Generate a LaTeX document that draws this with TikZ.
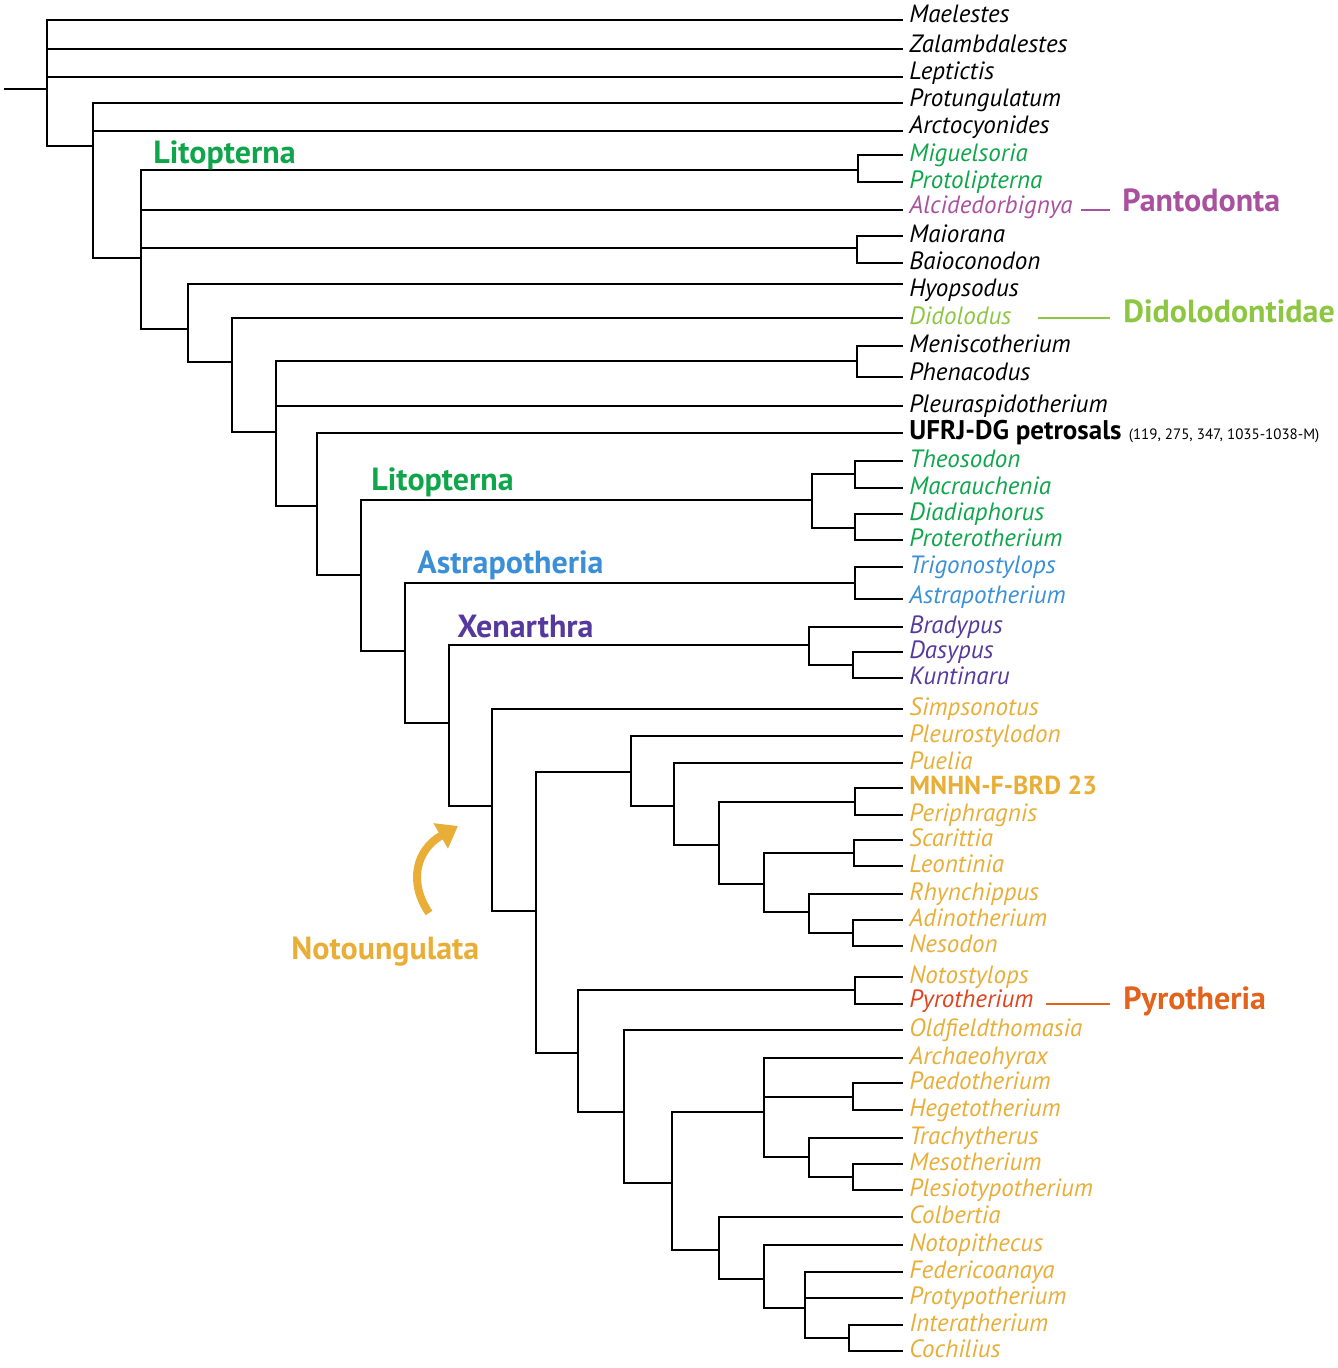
\documentclass[tikz,border=0pt]{standalone}
\usepackage{fontspec}
\setmainfont{PT Sans}
\usepackage{xcolor}
\usetikzlibrary{arrows.meta,calc}
\definecolor{litogreen}{HTML}{0FA64B}
\definecolor{pantopurple}{HTML}{A9509F}
\definecolor{didogreen}{HTML}{8DC641}
\definecolor{astrablue}{HTML}{3A8FD6}
\definecolor{xenaviolet}{HTML}{56399C}
\definecolor{notoyellow}{HTML}{E9AE38}
\definecolor{pyroorange}{HTML}{E2631C}
\definecolor{pyrored}{HTML}{E0441E}
\tikzset{
  taxon/.style={
    anchor=west, inner xsep=3pt, inner ysep=0pt,
    text height=9pt, text depth=2.5pt,
    font=\fontsize{12.5}{14}\selectfont\itshape, text=#1
  },
  taxon/.default=black,
  cladelabel/.style={
    anchor=base west, inner sep=0pt,
    font=\fontsize{16}{19}\selectfont\bfseries, text=#1
  },
  branch/.style={line width=1.1pt, draw=black},
  linkline/.style={line width=1.1pt, draw=#1},
  notoarrow/.style={
    -{Triangle[length=10pt, width=14pt]}, line width=4pt, draw=notoyellow
  },
}

\begin{document}
\begin{tikzpicture}[x=0.5pt, y=-0.5pt]
  \useasboundingbox (0,0) rectangle (1337,1368);
  % taxa
  \node[taxon, text height=5.5pt] (maelestes) at (903,20) {Maelestes};
  \node[taxon, text height=6pt] (zalamb) at (903,49) {Zalambdalestes};
  \node[taxon, text height=5.5pt] (leptictis) at (903,77) {Leptictis};
  \node[taxon, text height=6pt] (protung) at (903,103) {Protungulatum};
  \node[taxon, text height=5.5pt] (arcto) at (903,131) {Arctocyonides};
  \node[taxon=litogreen] (miguel) at (903,155) {Miguelsoria};
  \node[taxon=litogreen] (protoli) at (903,182) {Protolipterna};
  \node[taxon=pantopurple, text height=6pt] (alcid) at (903,210) {Alcidedorbignya};
  \node[taxon] (maiorana) at (903,236) {Maiorana};
  \node[taxon] (baioc) at (903,263) {Baioconodon};
  \node[taxon, text height=15.5pt] (hyops) at (903,284) {Hyopsodus};
  \node[taxon=didogreen] (didol) at (903,318) {Didolodus};
  \node[taxon] (menisc) at (903,346) {Meniscotherium};
  \node[taxon, text height=6pt] (phena) at (903,377) {Phenacodus};
  \node[taxon] (pleura) at (903,406) {Pleuraspidotherium};
  \node[taxon, font=\fontsize{13.5}{15}\selectfont] (ufrj) at (903,433)
    {\textbf{UFRJ-DG petrosals} {\fontsize{7.5}{9}\selectfont(119, 275, 347, 1035-1038-M)}};
  \node[taxon=litogreen] (theosodon) at (903,461) {Theosodon};
  \node[taxon=litogreen] (macrau) at (903,488) {Macrauchenia};
  \node[taxon=litogreen] (diadia) at (903,514) {Diadiaphorus};
  \node[taxon=litogreen] (protero) at (903,540) {Proterotherium};
  \node[taxon=astrablue] (trigono) at (903,567) {Trigonostylops};
  \node[taxon=astrablue, text height=6.5pt] (astrap) at (903,599) {Astrapotherium};
  \node[taxon=xenaviolet] (bradyp) at (903,627) {Bradypus};
  \node[taxon=xenaviolet] (dasypus) at (903,652) {Dasypus};
  \node[taxon=xenaviolet] (kuntin) at (903,678) {Kuntinaru};
  \node[taxon=notoyellow] (simpson) at (903,709) {Simpsonotus};
  \node[taxon=notoyellow] (pleurost) at (903,736) {Pleurostylodon};
  \node[taxon=notoyellow] (puelia) at (903,763) {Puelia};
  \node[taxon=notoyellow, font=\fontsize{13}{15}\selectfont\bfseries] (mnhn) at (903,788) {MNHN-F-BRD 23};
  \node[taxon=notoyellow] (periph) at (903,815) {Periphragnis};
  \node[taxon=notoyellow] (scarit) at (903,840) {Scarittia};
  \node[taxon=notoyellow] (leont) at (903,866) {Leontinia};
  \node[taxon=notoyellow] (rhynch) at (903,894) {Rhynchippus};
  \node[taxon=notoyellow] (adinoth) at (903,920) {Adinotherium};
  \node[taxon=notoyellow] (nesodon) at (903,946) {Nesodon};
  \node[taxon=notoyellow] (notosty) at (903,977) {Notostylops};
  \node[taxon=pyrored, text height=6pt] (pyroth) at (903,1004) {Pyrotherium};
  \node[taxon=notoyellow] (oldf) at (903,1030) {Oldfieldthomasia};
  \node[taxon=notoyellow] (archae) at (903,1058) {Archaeohyrax};
  \node[taxon=notoyellow] (paedoth) at (903,1083) {Paedotherium};
  \node[taxon=notoyellow] (hegeto) at (903,1110) {Hegetotherium};
  \node[taxon=notoyellow] (trachy) at (903,1138) {Trachytherus};
  \node[taxon=notoyellow] (mesoth) at (903,1164) {Mesotherium};
  \node[taxon=notoyellow] (plesio) at (903,1190) {Plesiotypotherium};
  \node[taxon=notoyellow] (colb) at (903,1217) {Colbertia};
  \node[taxon=notoyellow] (notopith) at (903,1245) {Notopithecus};
  \node[taxon=notoyellow] (feder) at (903,1272) {Federicoanaya};
  \node[taxon=notoyellow] (protyp) at (903,1298) {Protypotherium};
  \node[taxon=notoyellow] (interath) at (903,1325) {Interatherium};
  \node[taxon=notoyellow] (cochil) at (903,1351) {Cochilius};

  % internal nodes
  \coordinate (rootstem) at (4,89);
  \coordinate (root) at (47,89);
  \coordinate (nA) at (93,146);
  \coordinate (nB) at (141,258);
  \coordinate (litoA) at (858,170);
  \coordinate (maio) at (857,248);
  \coordinate (nC) at (188,329);
  \coordinate (nD) at (232,362);
  \coordinate (nE) at (276,432);
  \coordinate (meni) at (857,361);
  \coordinate (nF) at (317,506);
  \coordinate (nG) at (361,575);
  \coordinate (litoB) at (812,500);
  \coordinate (theo) at (855,474);
  \coordinate (diad) at (855,528);
  \coordinate (nH) at (405,651);
  \coordinate (astra) at (855,583);
  \coordinate (nI) at (449,723);
  \coordinate (xena) at (809,645);
  \coordinate (dasy) at (853,665);
  \coordinate (nJ) at (492,806);
  \coordinate (nK) at (536,911);
  \coordinate (nL) at (631,772);
  \coordinate (nN) at (674,806);
  \coordinate (nO) at (719,845);
  \coordinate (brd) at (855,802);
  \coordinate (nP) at (764,884);
  \coordinate (scar) at (854,853);
  \coordinate (nQ) at (809,912);
  \coordinate (adino) at (853,933);
  \coordinate (nM) at (578,1053);
  \coordinate (pyro) at (855,990);
  \coordinate (nR) at (624,1112);
  \coordinate (nS) at (672,1183);
  \coordinate (nT) at (764,1112);
  \coordinate (paedo) at (853,1097);
  \coordinate (nV) at (809,1157);
  \coordinate (meso) at (853,1177);
  \coordinate (nU) at (719,1250);
  \coordinate (nW) at (764,1279);
  \coordinate (nX) at (805,1308);
  \coordinate (inter) at (849,1338);

  % branches
  \draw[branch] (rootstem) -- (root);
  \draw[branch] (root) |- (maelestes.west) (root) |- (zalamb.west) (root) |- (leptictis.west) (root) |- (nA);
  \draw[branch] (nA) |- (protung.west) (nA) |- (arcto.west) (nA) |- (nB);
  \draw[branch] (nB) |- (litoA) (nB) |- (alcid.west) (nB) |- (maio) (nB) |- (nC);
  \draw[branch] (litoA) |- (miguel.west) (litoA) |- (protoli.west);
  \draw[branch] (maio) |- (maiorana.west) (maio) |- (baioc.west);
  \draw[branch] (nC) |- (hyops.west) (nC) |- (nD);
  \draw[branch] (nD) |- (didol.west) (nD) |- (nE);
  \draw[branch] (nE) |- (meni) (nE) |- (pleura.west) (nE) |- (nF);
  \draw[branch] (meni) |- (menisc.west) (meni) |- (phena.west);
  \draw[branch] (nF) |- (ufrj.west) (nF) |- (nG);
  \draw[branch] (nG) |- (litoB) (nG) |- (nH);
  \draw[branch] (litoB) |- (theo) (litoB) |- (diad);
  \draw[branch] (theo) |- (theosodon.west) (theo) |- (macrau.west);
  \draw[branch] (diad) |- (diadia.west) (diad) |- (protero.west);
  \draw[branch] (nH) |- (astra) (nH) |- (nI);
  \draw[branch] (astra) |- (trigono.west) (astra) |- (astrap.west);
  \draw[branch] (nI) |- (xena) (nI) |- (nJ);
  \draw[branch] (xena) |- (bradyp.west) (xena) |- (dasy);
  \draw[branch] (dasy) |- (dasypus.west) (dasy) |- (kuntin.west);
  \draw[branch] (nJ) |- (simpson.west) (nJ) |- (nK);
  \draw[branch] (nK) |- (nL) (nK) |- (nM);
  \draw[branch] (nL) |- (pleurost.west) (nL) |- (nN);
  \draw[branch] (nN) |- (puelia.west) (nN) |- (nO);
  \draw[branch] (nO) |- (brd) (nO) |- (nP);
  \draw[branch] (brd) |- (mnhn.west) (brd) |- (periph.west);
  \draw[branch] (nP) |- (scar) (nP) |- (nQ);
  \draw[branch] (scar) |- (scarit.west) (scar) |- (leont.west);
  \draw[branch] (nQ) |- (rhynch.west) (nQ) |- (adino);
  \draw[branch] (adino) |- (adinoth.west) (adino) |- (nesodon.west);
  \draw[branch] (nM) |- (pyro) (nM) |- (nR);
  \draw[branch] (pyro) |- (notosty.west) (pyro) |- (pyroth.west);
  \draw[branch] (nR) |- (oldf.west) (nR) |- (nS);
  \draw[branch] (nS) |- (nT) (nS) |- (nU);
  \draw[branch] (nT) |- (archae.west) (nT) |- (paedo) (nT) |- (nV);
  \draw[branch] (paedo) |- (paedoth.west) (paedo) |- (hegeto.west);
  \draw[branch] (nV) |- (trachy.west) (nV) |- (meso);
  \draw[branch] (meso) |- (mesoth.west) (meso) |- (plesio.west);
  \draw[branch] (nU) |- (colb.west) (nU) |- (nW);
  \draw[branch] (nW) |- (notopith.west) (nW) |- (nX);
  \draw[branch] (nX) |- (feder.west) (nX) |- (protyp.west) (nX) |- (inter);
  \draw[branch] (inter) |- (interath.west) (inter) |- (cochil.west);

  % clade labels
  \node[cladelabel=litogreen] (litoptA) at (153,164) {Litopterna};
  \node[cladelabel=litogreen] (litoptB) at (371,491) {Litopterna};
  \node[cladelabel=astrablue] (astrapoth) at (417,573) {Astrapotheria};
  \node[cladelabel=xenaviolet] (xenarth) at (457,637) {Xenarthra};
  \node[cladelabel=notoyellow] (notoung) at (291,959) {Notoungulata};
  \node[cladelabel=pantopurple] (pantod) at (1122,212) {Pantodonta};
  \node[cladelabel=didogreen] (didolod) at (1123,323) {Didolodontidae};
  \node[cladelabel=pyroorange] (pyrother) at (1123,1009) {Pyrotheria};
  \draw[linkline=pantopurple, shorten <=1pt, shorten >=6pt] (alcid.east) -- (alcid.east -| pantod.west);
  \draw[linkline=didogreen, shorten <=10pt, shorten >=6.5pt] (didol.east) -- (didol.east -| didolod.west);
  \draw[linkline=pyroorange, shorten <=3pt, shorten >=6.5pt] (pyroth.east) -- (pyroth.east -| pyrother.west);

  % Notoungulata arrow
  \coordinate (notostart) at (429,913);
  \coordinate (nototip) at (458,826);
  \draw[notoarrow] (notostart) .. controls (408,882) and (416,850) .. (nototip);
\end{tikzpicture}
\end{document}
